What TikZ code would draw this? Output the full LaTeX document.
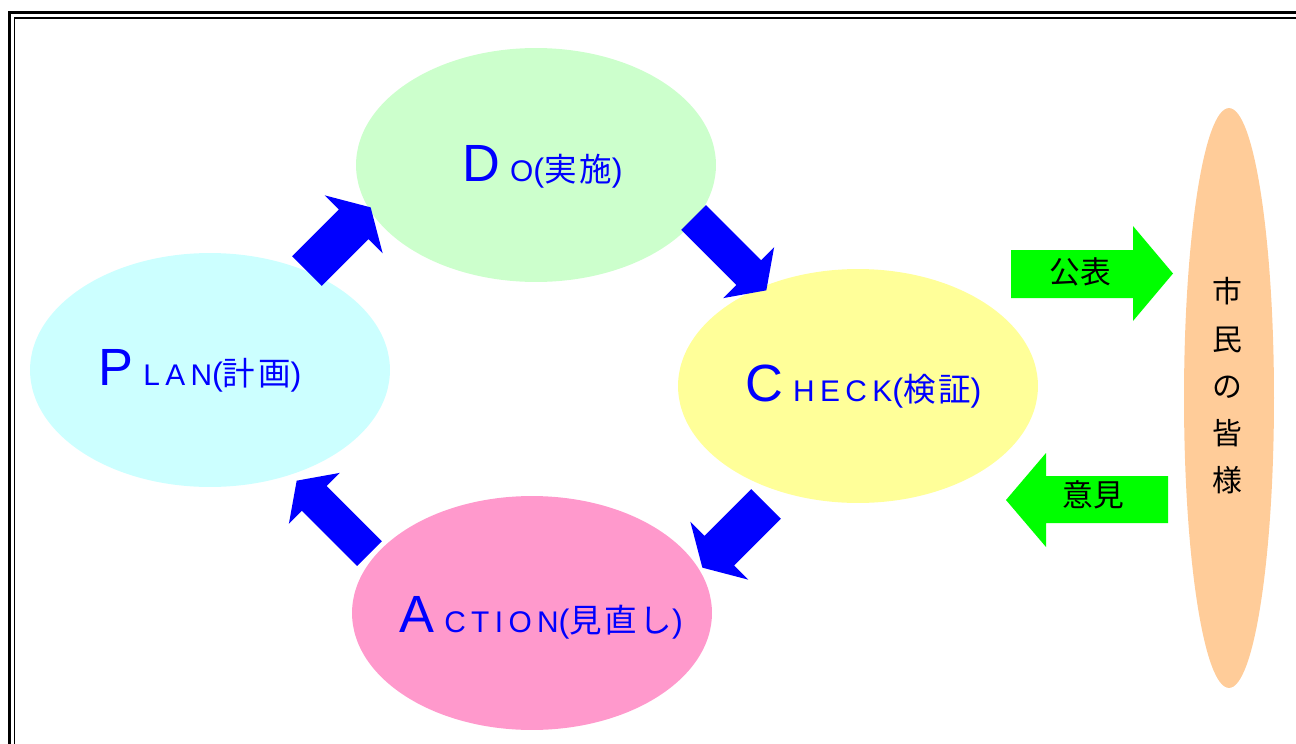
\documentclass[tikz,border=0pt]{standalone}
\usepackage{fontspec}
\setmainfont{Liberation Sans}
\newfontfamily\cjk{Noto Sans CJK JP}
\newfontfamily\cjklabel[LetterSpace=8]{Noto Sans CJK JP}
\newfontfamily\spaced[LetterSpace=18]{Liberation Sans}
\usetikzlibrary{shapes.geometric}

\definecolor{doGreen}{HTML}{CCFFCC}
\definecolor{planCyan}{HTML}{CCFFFF}
\definecolor{checkYellow}{HTML}{FFFF99}
\definecolor{actPink}{HTML}{FF99CC}
\definecolor{citizenOrange}{HTML}{FFCC99}
\definecolor{cycleBlue}{HTML}{0000FF}
\definecolor{voiceGreen}{HTML}{00FF00}

\newcommand\firstletter[1]{{\fontsize{29.8}{30}\selectfont #1}\hspace{0.2cm}}
\newcommand\jpart[1]{{\fontsize{18.5}{20}\selectfont({\cjklabel #1})}}

\begin{document}
\begin{tikzpicture}[x=0.02cm,y=-0.02cm,
    phase/.style={ellipse,minimum width=7.2cm,minimum height=4.68cm,inner sep=0pt},
    phase label/.style={anchor=base west,inner sep=0pt,text=cycleBlue,font=\spaced\fontsize{17}{19}\selectfont},
    cycle arrow/.style={fill=cycleBlue},
    voice arrow/.style={fill=voiceGreen},
    voice label/.style={inner sep=0pt,font=\cjk\fontsize{17.5}{20}\selectfont}]
    \useasboundingbox (0,0) rectangle (1296,744);
    \clip (0,0) rectangle (1296,744);
    % double frame
    \draw[line width=0.06cm] (9.5,12.5) rectangle (1400,900);
    \draw[line width=0.04cm] (14.5,18) rectangle (1400,900);
    % the four phases
    \node[phase,fill=doGreen] (do) at (536,165) {};
    \node[phase,fill=planCyan] (plan) at (210,370) {};
    \node[phase,fill=checkYellow] (check) at (858,386) {};
    \node[phase,fill=actPink] (action) at (532,613) {};
    \node[ellipse,fill=citizenOrange,minimum width=1.8cm,minimum height=11.6cm,inner sep=0pt] (citizens) at (1229,398) {};
    % cycle arrows
    \fill[cycle arrow,shift={(307,271)},rotate=45] (0,-21) -- (66,-21) -- (66,-41) -- (90,0) -- (66,41) -- (66,21) -- (0,21) -- cycle;
    \fill[cycle arrow,shift={(693.5,217.5)},rotate=-45] (0,-17.5) -- (78,-17.5) -- (78,-36) -- (103,0) -- (78,36) -- (78,17.5) -- (0,17.5) -- cycle;
    \fill[cycle arrow,shift={(766,504)},rotate=-135] (0,-21) -- (66,-21) -- (66,-41) -- (90,0) -- (66,41) -- (66,21) -- (0,21) -- cycle;
    \fill[cycle arrow,shift={(369.5,553.5)},rotate=135] (0,-17.5) -- (78,-17.5) -- (78,-36) -- (103,0) -- (78,36) -- (78,17.5) -- (0,17.5) -- cycle;
    % arrows to and from the citizens
    \fill[voice arrow] (1011,250) -- (1133,250) -- (1133,226) -- (1173,273.5) -- (1133,321) -- (1133,298) -- (1011,298) -- cycle;
    \fill[voice arrow] (1168,476) -- (1046,476) -- (1046,453) -- (1006,500) -- (1046,547) -- (1046,523) -- (1168,523) -- cycle;
    % labels
    \node[phase label] (dotext) at (462,181) {\firstletter{D}O\jpart{実施}};
    \node[phase label] (plantext) at (98,385) {\firstletter{P}LAN\jpart{計画}};
    \node[phase label] (checktext) at (745,401) {\firstletter{C}HECK\jpart{検証}};
    \node[phase label] (actiontext) at (399,632) {\firstletter{A}CTION\jpart{見直し}};
    \node[voice label] (publish) at (1080,272) {公表};
    \node[voice label] (opinion) at (1093,495) {意見};
    \node[voice label,align=center,font=\cjk\fontsize{17}{26.9}\selectfont] (citizentext) at (1227,386) {市\\民\\の\\皆\\様};
\end{tikzpicture}
\end{document}
